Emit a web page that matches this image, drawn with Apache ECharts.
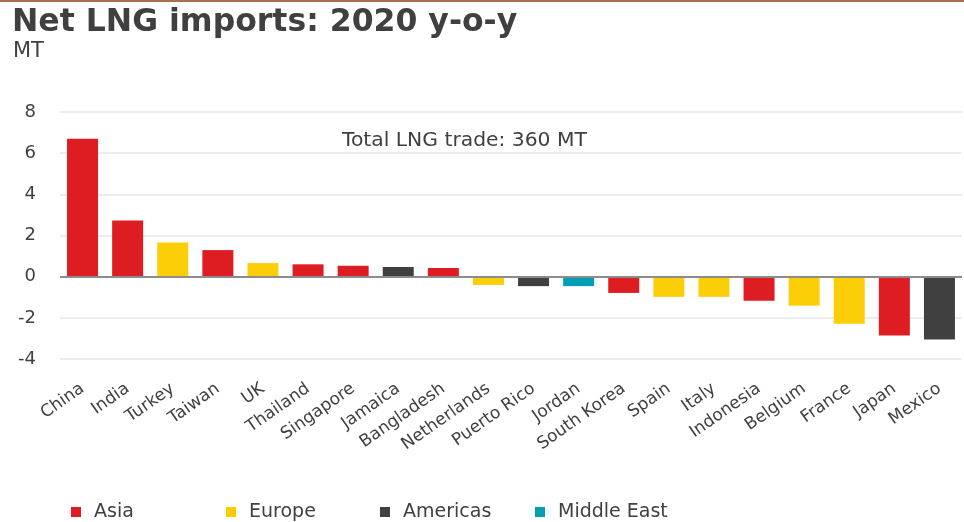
<!DOCTYPE html>
<html>
<head>
<meta charset="utf-8">
<script src="https://cdn.jsdelivr.net/npm/echarts@6/dist/echarts.min.js"></script>
<style>
  html, body { margin: 0; padding: 0; background: #fff; }
  #chart { width: 964px; height: 522px; border-top: 2px solid #a8714c; box-sizing: border-box; }
</style>
</head>
<body>
<div id="chart"></div>
<script>
// Year-on-year change in net LNG imports, 2020 (MT)
const countries = ['China', 'India', 'Turkey', 'Taiwan', 'UK', 'Thailand', 'Singapore', 'Jamaica',
  'Bangladesh', 'Netherlands', 'Puerto Rico', 'Jordan', 'South Korea', 'Spain', 'Italy',
  'Indonesia', 'Belgium', 'France', 'Japan', 'Mexico'];
const changeMT = [6.7, 2.73, 1.66, 1.29, 0.66, 0.6, 0.53, 0.47, 0.42, -0.4, -0.46, -0.46,
  -0.79, -0.98, -0.98, -1.17, -1.41, -2.29, -2.86, -3.05];
const regionOf = ['Asia', 'Asia', 'Europe', 'Asia', 'Europe', 'Asia', 'Asia', 'Americas',
  'Asia', 'Europe', 'Americas', 'Middle East', 'Asia', 'Europe', 'Europe', 'Asia', 'Europe',
  'Europe', 'Asia', 'Americas'];
const regions = ['Asia', 'Europe', 'Americas', 'Middle East'];
const regionColors = ['#dd1d21', '#fbce07', '#404040', '#009eb4'];
const yTicks = [-4, -2, 0, 2, 4, 6, 8];

const FONT = 'DejaVu Sans';
const TEXT = '#404040';

const chart = echarts.init(document.getElementById('chart'));

// one stacked bar series per region so each region gets its own legend entry
const series = regions.map((r, i) => ({
  name: r,
  type: 'bar',
  stack: 'region',
  barWidth: 31,
  itemStyle: { color: regionColors[i] },
  data: changeMT.map((v, k) => (regionOf[k] === r ? v : '-')),
  markLine: i === 0 ? {
    silent: true,
    symbol: 'none',
    label: { show: false },
    lineStyle: { color: '#8c8c8c', width: 2, type: 'solid' },
    data: [{ yAxis: 0 }]
  } : undefined
}));

const legendLeft = [66, 221, 375, 530];
const legends = regions.map((r, i) => ({
  data: [r],
  left: legendLeft[i],
  top: 495,
  padding: 5,
  icon: 'rect',
  itemWidth: 10,
  itemHeight: 10,
  selectedMode: false,
  textStyle: { fontFamily: FONT, fontSize: 19, color: TEXT, padding: [0, 0, 0, 8], lineHeight: 20 }
}));

chart.setOption({
  animation: false,
  textStyle: { fontFamily: FONT },
  title: [
    { text: 'Net LNG imports: 2020 y-o-y', left: 12, top: 5, padding: 0,
      textStyle: { fontFamily: FONT, fontWeight: 'bold', fontSize: 31.5, color: TEXT } },
    { text: 'MT', left: 13, top: 39, padding: 0,
      textStyle: { fontFamily: FONT, fontWeight: 'normal', fontSize: 21, color: TEXT } }
  ],
  graphic: [{
    type: 'text', left: 342, top: 129,
    style: { text: 'Total LNG trade: 360 MT', font: '20.3px "DejaVu Sans"', fill: TEXT }
  }],
  legend: legends,
  grid: { left: 60, right: 2, top: 110, bottom: 163, containLabel: false },
  xAxis: {
    type: 'category',
    data: countries,
    axisLine: { show: false },
    axisTick: { show: false },
    axisLabel: { interval: 0, rotate: 35, margin: 28, fontSize: 17, color: TEXT, fontFamily: FONT }
  },
  yAxis: {
    type: 'value',
    min: yTicks[0],
    max: yTicks[yTicks.length - 1],
    interval: 2,
    axisLine: { show: false },
    axisTick: { show: false },
    axisLabel: { margin: 24, fontSize: 18, color: TEXT, fontFamily: FONT },
    splitLine: { lineStyle: { color: '#e6e6e6', width: 1.5 } }
  },
  series: series
});
</script>
</body>
</html>
